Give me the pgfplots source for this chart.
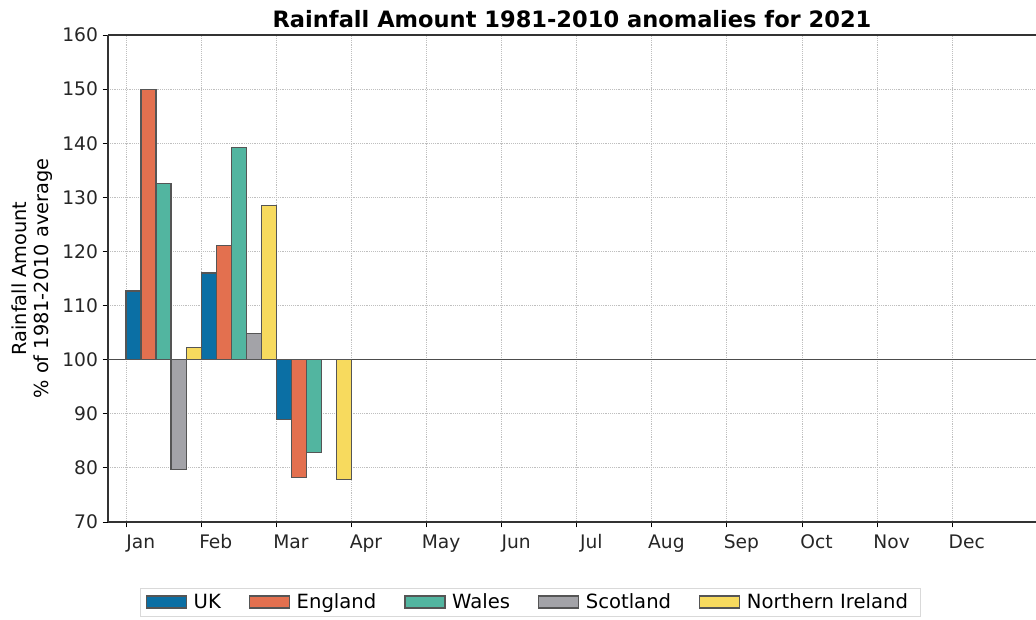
\documentclass[border=0pt]{standalone}
\usepackage{fontspec}
\setmainfont{DejaVu Sans}
\usepackage{pgfplots}
\usepackage{pgfplotstable}
\pgfplotsset{compat=1.18}
\definecolor{cUK}{HTML}{0B6FA4}
\definecolor{cEN}{HTML}{E3704F}
\definecolor{cWA}{HTML}{52B5A0}
\definecolor{cSC}{HTML}{A3A3A8}
\definecolor{cNI}{HTML}{F7DA5E}
\definecolor{cEdge}{HTML}{555555}
\pgfplotstableread{
x UK England Wales Scotland NI
0 112.7 150.0 132.6 79.7 102.2
1 116.0 121.1 139.2 104.9 128.5
2 88.9 78.2 82.9 100.1 77.9
}\data
\begin{document}
\begin{tikzpicture}
\begin{axis}[
  at={(0,0)}, anchor=south west,
  scale only axis,
  width=696pt, height=365.25pt,
  xmin=-0.24, xmax=12.117,
  ymin=70, ymax=160,
  y coord trafo/.code={\pgfmathparse{#1-100}},
  y coord inv trafo/.code={\pgfmathparse{#1+100}},
  ytick={70,80,...,160},
  xtick={0,...,11},
  xticklabels={Jan,Feb,Mar,Apr,May,Jun,Jul,Aug,Sep,Oct,Nov,Dec},
  axis x line*=box, axis y line*=left,
  tick pos=left, tick align=outside,
  major tick length=4pt,
  tick style={black, line width=0.6pt},
  axis line style={black!80, line width=0.9pt},
  grid=major,
  major grid style={densely dotted, gray!50, line width=0.6pt},
  ticklabel style={font=\fontsize{14}{16}\selectfont, text=black!85},
  xticklabel style={xshift=11pt, yshift=-2pt},
  /pgf/number format/assume math mode=true,
  title={\bfseries Rainfall Amount 1981-2010 anomalies for 2021},
  title style={font=\fontsize{16.9}{20}\selectfont, yshift=-4pt},
  ylabel={Rainfall Amount\\\% of 1981-2010 average},
  ylabel style={align=center, font=\fontsize{14.5}{16.5}\selectfont, yshift=0.5pt},
  legend columns=-1,
  legend style={at={(0.455,-0.1355)}, anchor=north, draw=gray!30,
    font=\fontsize{14.7}{16}\selectfont,
    /tikz/every even column/.append style={column sep=16pt},
    nodes={inner xsep=5pt},
    inner xsep=4pt, inner ysep=2pt},
  legend image code/.code={\draw[#1] (0pt,-4.5pt) rectangle (30pt,4.5pt);},
]
\addplot [forget plot, black!70, line width=0.9pt] coordinates {(-0.24,100) (12.117,100)};
\addplot [ybar, bar width=0.2, bar shift=0pt, fill=cUK, draw=cEdge, line width=0.9pt]
  table [x expr=\thisrow{x}+0.1, y=UK] {\data};
\addplot [ybar, bar width=0.2, bar shift=0pt, fill=cEN, draw=cEdge, line width=0.9pt]
  table [x expr=\thisrow{x}+0.3, y=England] {\data};
\addplot [ybar, bar width=0.2, bar shift=0pt, fill=cWA, draw=cEdge, line width=0.9pt]
  table [x expr=\thisrow{x}+0.5, y=Wales] {\data};
\addplot [ybar, bar width=0.2, bar shift=0pt, fill=cSC, draw=cEdge, line width=0.9pt]
  table [x expr=\thisrow{x}+0.7, y=Scotland] {\data};
\addplot [ybar, bar width=0.2, bar shift=0pt, fill=cNI, draw=cEdge, line width=0.9pt]
  table [x expr=\thisrow{x}+0.9, y=NI] {\data};
\legend{UK,England,Wales,Scotland,Northern Ireland}
\end{axis}
\pgfresetboundingbox
\useasboundingbox (-81pt,-72.75pt) rectangle (696pt,391.5pt);
\end{tikzpicture}
\end{document}
